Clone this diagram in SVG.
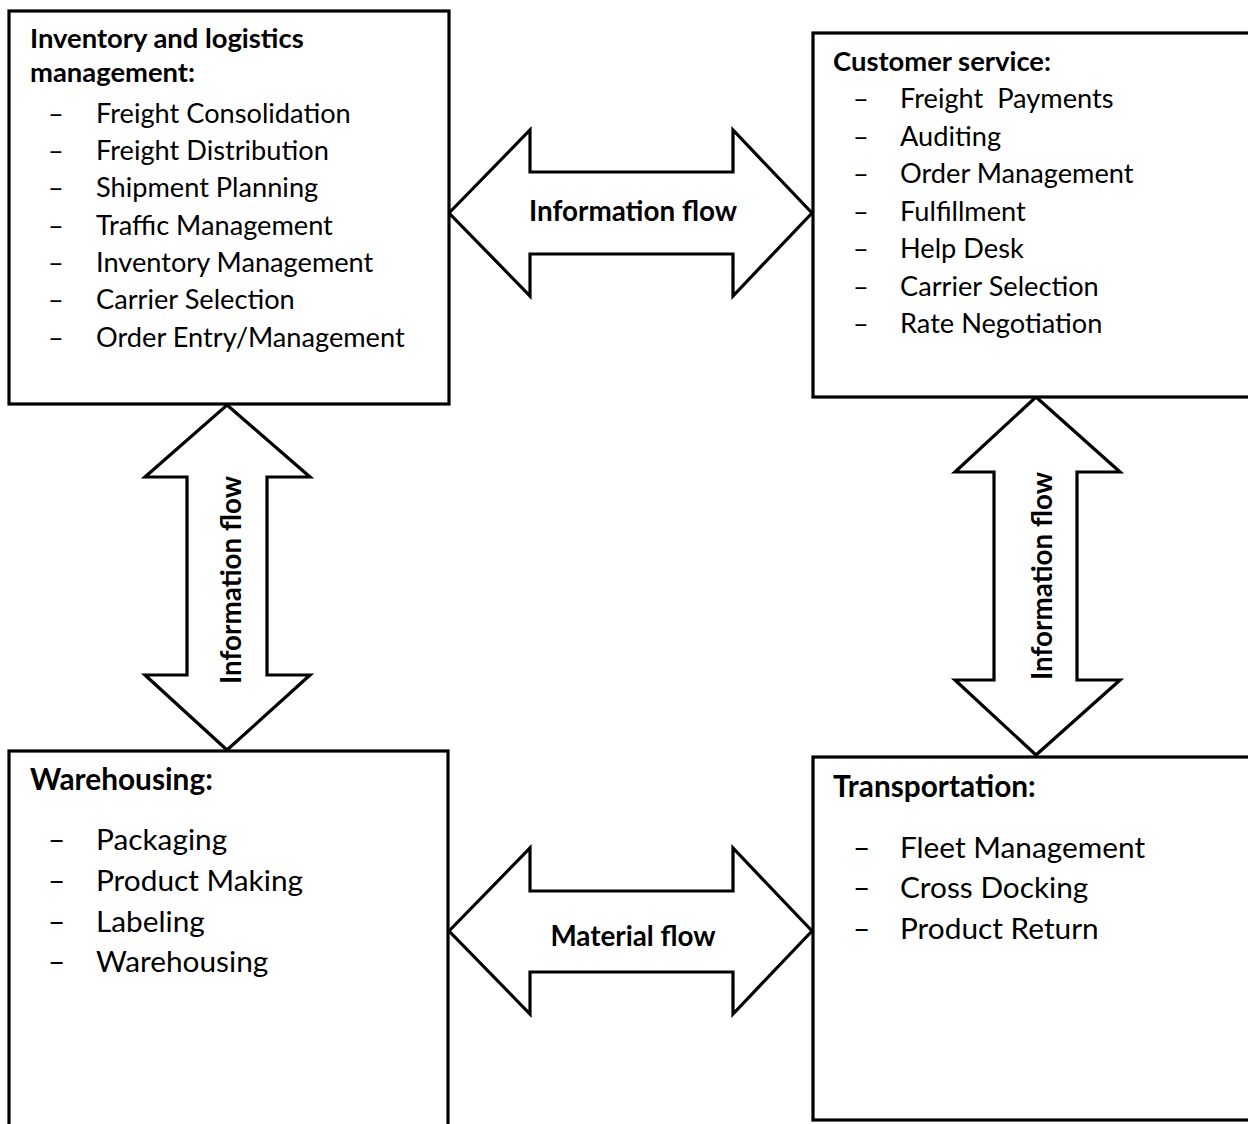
<svg xmlns="http://www.w3.org/2000/svg" width="1248" height="1124" viewBox="0 0 1248 1124">
<style>
.box{fill:#fff;stroke:#000;stroke-width:3.2}
.arr{fill:#fff;stroke:#000;stroke-width:3.2;stroke-linejoin:miter}
text{font-family:Lato,"Carlito","Open Sans",sans-serif;fill:#000}
.h{font-weight:bold;font-size:27.4px}
.hb{font-weight:bold;font-size:29.8px}
.i{font-size:27.2px}
.ib{font-size:29.8px}
.lbl{font-weight:bold;font-size:27.8px;text-anchor:middle}
</style>
<rect width="1248" height="1124" fill="#fff"/>
<g id="connectors">
<polygon class="arr" points="449,213 530,130 530,172 733,172 733,130 812,213 733,296 733,254 530,254 530,296"/>
<polygon class="arr" points="449,931 530,848 530,891 733,891 733,848 812,931 733,1014 733,972 530,972 530,1014"/>
<polygon class="arr" points="227,405 310,477 267,477 267,675 310,675 227,750 145,675 187,675 187,477 145,477"/>
<polygon class="arr" points="1036,397 1120,472 1077,472 1077,680 1120,680 1036,755 955,680 994,680 994,472 955,472"/>
<text class="lbl" x="633" y="221">Information flow</text>
<text class="lbl" x="633" y="946">Material flow</text>
<text class="lbl" transform="translate(241,580) rotate(-90)">Information flow</text>
<text class="lbl" transform="translate(1052,576) rotate(-90)">Information flow</text>
</g>
<g id="inventory">
<rect class="box" x="9" y="11" width="440" height="393"/>
<text class="h" x="30" y="48">Inventory and logistics</text>
<text class="h" x="30" y="82">management:</text>
<text class="i" x="48" y="122.5">–</text><text class="i" x="96" y="122.5">Freight Consolidation</text>
<text class="i" x="48" y="160">–</text><text class="i" x="96" y="160">Freight Distribution</text>
<text class="i" x="48" y="197">–</text><text class="i" x="96" y="197">Shipment Planning</text>
<text class="i" x="48" y="234.5">–</text><text class="i" x="96" y="234.5">Traffic Management</text>
<text class="i" x="48" y="272">–</text><text class="i" x="96" y="272">Inventory Management</text>
<text class="i" x="48" y="309">–</text><text class="i" x="96" y="309">Carrier Selection</text>
<text class="i" x="48" y="346.5">–</text><text class="i" x="96" y="346.5">Order Entry/Management</text>
</g>
<g id="customer">
<rect class="box" x="813" y="33" width="450" height="364"/>
<text class="h" x="833" y="70.5">Customer service:</text>
<text class="i" x="853" y="108">–</text><text class="i" x="900" y="108" xml:space="preserve">Freight  Payments</text>
<text class="i" x="853" y="145.5">–</text><text class="i" x="900" y="145.5">Auditing</text>
<text class="i" x="853" y="183">–</text><text class="i" x="900" y="183">Order Management</text>
<text class="i" x="853" y="220.5">–</text><text class="i" x="900" y="220.5">Fulfillment</text>
<text class="i" x="853" y="258">–</text><text class="i" x="900" y="258">Help Desk</text>
<text class="i" x="853" y="295.5">–</text><text class="i" x="900" y="295.5">Carrier Selection</text>
<text class="i" x="853" y="333">–</text><text class="i" x="900" y="333">Rate Negotiation</text>
</g>
<g id="warehousing">
<rect class="box" x="9" y="751" width="439" height="400"/>
<text class="hb" x="30" y="790">Warehousing:</text>
<text class="ib" x="48" y="850">–</text><text class="ib" x="96" y="850">Packaging</text>
<text class="ib" x="48" y="891">–</text><text class="ib" x="96" y="891">Product Making</text>
<text class="ib" x="48" y="931.5">–</text><text class="ib" x="96" y="931.5">Labeling</text>
<text class="ib" x="48" y="972">–</text><text class="ib" x="96" y="972">Warehousing</text>
</g>
<g id="transportation">
<rect class="box" x="813" y="757" width="450" height="363"/>
<text class="hb" x="833" y="797">Transportation:</text>
<text class="ib" x="853" y="858">–</text><text class="ib" x="900" y="858">Fleet Management</text>
<text class="ib" x="853" y="898">–</text><text class="ib" x="900" y="898">Cross Docking</text>
<text class="ib" x="853" y="939">–</text><text class="ib" x="900" y="939">Product Return</text>
</g>
</svg>
